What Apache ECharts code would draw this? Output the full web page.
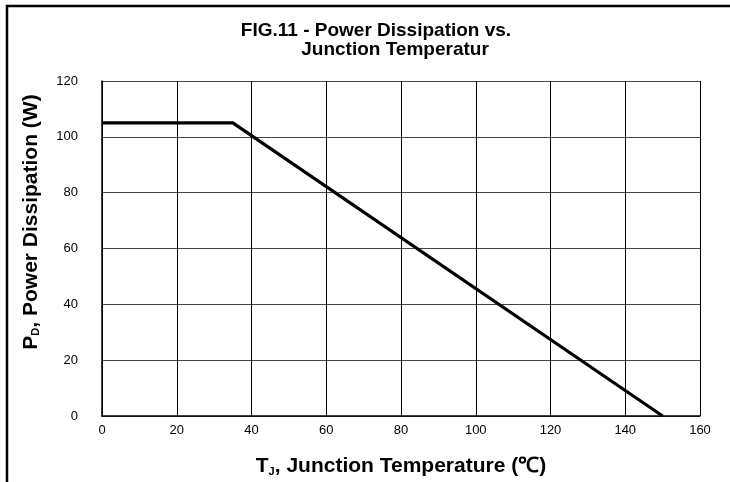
<!DOCTYPE html>
<html>
<head>
<meta charset="utf-8">
<script src="https://cdn.jsdelivr.net/npm/echarts@6/dist/echarts.min.js"></script>
<style>html,body{margin:0;padding:0;background:#fff;}#c{width:730px;height:482px;}</style>
</head>
<body>
<div id="c"></div>
<script>
const titleLines = ['FIG.11 - Power Dissipation vs.', 'Junction Temperatur'];
const temperature = [0, 35, 150];
const power = [105, 105, 0];
const xTicks = [0, 20, 40, 60, 80, 100, 120, 140, 160];
const yTicks = [0, 20, 40, 60, 80, 100, 120];

const chart = echarts.init(document.getElementById('c'));
const font = '"Liberation Sans", Arial, sans-serif';
chart.setOption({
  animation: false,
  backgroundColor: '#fff',
  title: [
    { text: titleLines[0], left: 371, top: 16, textAlign: 'center',
      textStyle: { fontFamily: font, fontSize: 19, fontWeight: 'bold', color: '#000' } },
    { text: titleLines[1], left: 390, top: 35, textAlign: 'center',
      textStyle: { fontFamily: font, fontSize: 19, fontWeight: 'bold', color: '#000' } }
  ],
  graphic: [
    { type: 'rect', shape: { x: 7, y: 6, width: 900, height: 700 },
      style: { fill: 'none', stroke: '#000', lineWidth: 2.5 }, silent: true },
    { type: 'text', x: 31, y: 222, rotation: Math.PI / 2,
      style: {
        text: '{b|P}{s|D}{b|, Power Dissipation (W)}',
        align: 'center', verticalAlign: 'middle',
        rich: {
          b: { fontFamily: font, fontSize: 21, fontWeight: 'bold', fill: '#000' },
          s: { fontFamily: font, fontSize: 11, fontWeight: 'bold', fill: '#000', padding: [10, 0, 0, 0] }
        }
      } }
  ],
  grid: { left: 102, top: 81, right: 30, bottom: 64 },
  xAxis: {
    type: 'value', min: xTicks[0], max: xTicks[xTicks.length - 1], interval: 20,
    name: '{b|T}{s|J}{b|, Junction Temperature (℃)}',
    nameLocation: 'middle', nameGap: 40,
    nameTextStyle: {
      rich: {
        b: { fontFamily: font, fontSize: 21, fontWeight: 'bold', color: '#000' },
        s: { fontFamily: font, fontSize: 11, fontWeight: 'bold', color: '#000', padding: [10, 0, 0, 0] }
      }
    },
    axisLine: { lineStyle: { color: '#000', width: 1.5 } },
    axisTick: { show: false },
    axisLabel: { fontFamily: font, fontSize: 13, color: '#000', margin: 8 },
    splitLine: { show: true, lineStyle: { color: '#000', width: 1 } }
  },
  yAxis: {
    type: 'value', min: yTicks[0], max: yTicks[yTicks.length - 1], interval: 20,
    axisLine: { show: true, lineStyle: { color: '#000', width: 1.5 } },
    axisTick: { show: false },
    axisLabel: { fontFamily: font, fontSize: 13, color: '#000', margin: 24 },
    splitLine: { show: true, lineStyle: { color: '#444', width: 1 } }
  },
  series: [{
    type: 'line',
    data: temperature.map((t, i) => [t, power[i]]),
    showSymbol: false,
    lineStyle: { color: '#000', width: 3.2 }
  }]
});
</script>
</body>
</html>
